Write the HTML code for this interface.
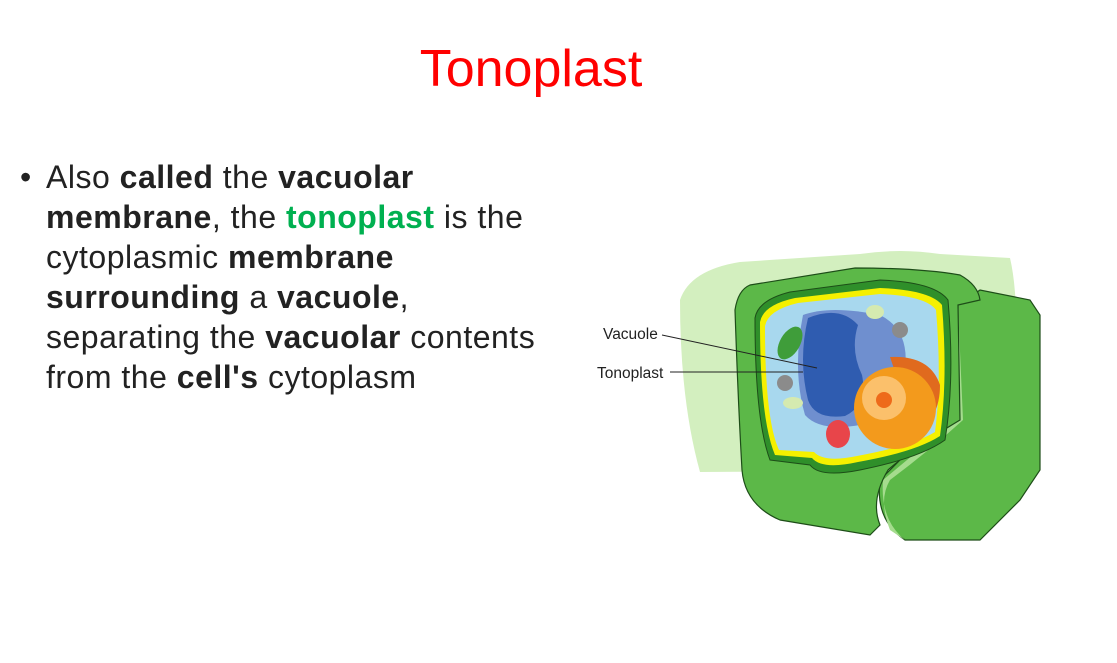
<!DOCTYPE html>
<html><head><meta charset="utf-8">
<style>
html,body{margin:0;padding:0;background:#fff;}
#slide{position:relative;width:1117px;height:663px;overflow:hidden;background:#fff;font-family:"Liberation Sans",sans-serif;}
#title{position:absolute;left:0;width:1062px;top:37px;text-align:center;color:#f00;font-size:52px;line-height:64px;}
#bullet{position:absolute;left:46px;top:157px;font-size:32px;line-height:40px;color:#222;white-space:nowrap;letter-spacing:0.5px;}
#bullet .dot{position:absolute;left:-26px;top:0;}
.g{color:#00b050;font-weight:bold;}
b{font-weight:bold;}
svg{position:absolute;left:0;top:0;}
</style></head>
<body>
<div id="slide">
<div id="title">Tonoplast</div>
<div id="bullet"><span class="dot">•</span>Also <b>called</b> the <b>vacuolar</b><br><b>membrane</b>, the <span class="g">tonoplast</span> is the<br>cytoplasmic <b>membrane</b><br><b>surrounding</b> a <b>vacuole</b>,<br>separating the <b>vacuolar</b> contents<br>from the <b>cell's</b> cytoplasm</div>
<svg width="1117" height="663">
<path d="M680,300 Q690,270 740,262 L860,254 Q900,248 940,254 L1010,258 Q1020,300 1015,400 L1010,470 L700,472 Q680,400 680,300Z" fill="#d3efbf"/>
<path d="M958,305 L980,290 L1030,300 L1040,315 L1040,470 L1020,500 L980,540 L905,540 Q875,520 880,480 L915,445 L955,420Z" fill="#5cb848" stroke="#1d4d18" stroke-width="1.2"/>
<path d="M958,305 L963,420 Q930,450 890,480 Q878,500 890,530 L905,540 Q880,520 883,480 L955,420Z" fill="#a5dc8e"/>
<path d="M735,310 Q738,290 750,285 L855,268 Q920,268 960,275 Q978,285 980,300 L958,305 L960,420 Q910,450 888,470 Q870,500 880,525 L870,535 L780,520 Q745,505 742,470 Q738,400 735,310Z" fill="#5cb848" stroke="#1d4d18" stroke-width="1.2"/>
<path d="M755,318 Q758,300 790,292 L880,280 Q935,282 948,300 Q955,380 945,440 Q920,458 860,470 Q820,478 810,465 L770,460 Q755,420 755,318Z" fill="#2f8f2a" stroke="#1d4d18"/>
<path d="M760,322 Q763,305 795,298 L880,288 Q930,290 942,305 Q948,380 940,436 Q915,452 858,462 Q822,470 812,458 L775,455 Q760,420 760,322Z" fill="#f5f000"/>
<path d="M765,326 Q768,310 798,303 L880,294 Q926,296 936,310 Q942,380 935,432 Q912,446 857,456 Q824,463 814,452 L779,450 Q765,420 765,326Z" fill="#a8d8ee"/>
<path d="M803,315 Q830,305 880,315 Q910,330 905,370 Q890,410 860,425 Q820,432 805,415 Q792,370 803,315Z" fill="#6f8fcf"/>
<path d="M808,318 Q840,305 858,325 Q850,350 862,375 Q868,405 845,416 Q815,420 808,400 Q798,360 808,318Z" fill="#2f5cb0"/>
<ellipse cx="790" cy="343" rx="10" ry="18" transform="rotate(30 790 343)" fill="#3f9d3a"/>
<circle cx="785" cy="383" r="8" fill="#8b8b8b"/>
<circle cx="900" cy="330" r="8" fill="#8b8b8b"/>
<ellipse cx="793" cy="403" rx="10" ry="6" fill="#d5eab0"/>
<ellipse cx="875" cy="312" rx="9" ry="7" fill="#d5eab0"/>
<ellipse cx="838" cy="434" rx="12" ry="14" fill="#e8454a"/>
<path d="M890,357 Q930,355 940,385 Q940,420 915,430 Z" fill="#e06a1e"/>
<circle cx="895" cy="408" r="41" fill="#f39a1c"/>
<circle cx="884" cy="398" r="22" fill="#fbc06b"/>
<circle cx="884" cy="400" r="8" fill="#ee6a1a"/>
<text x="603" y="339" font-size="15.5" fill="#222">Vacuole</text>
<text x="597" y="378" font-size="15.5" fill="#222">Tonoplast</text>
<line x1="662" y1="335" x2="817" y2="368" stroke="#222" stroke-width="1"/>
<line x1="670" y1="372" x2="803" y2="372" stroke="#222" stroke-width="1"/>
</svg>
</div>
</body></html>
